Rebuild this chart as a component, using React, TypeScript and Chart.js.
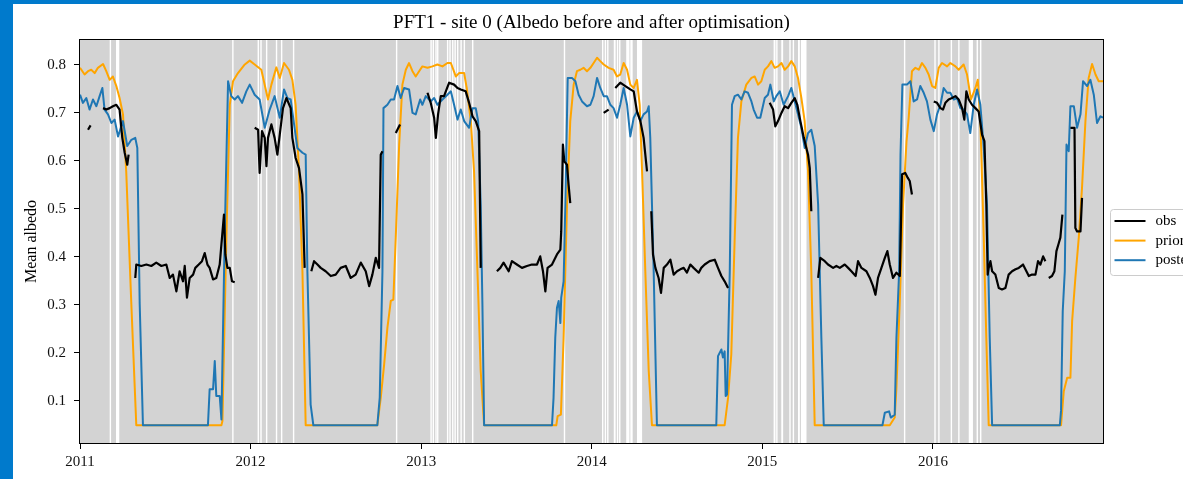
import React, { useEffect, useRef } from 'react';
import { Chart, registerables } from 'chart.js';

Chart.register(...registerables);

// ---- axis ticks / limits ----
const X_TICKS = [2011, 2012, 2013, 2014, 2015, 2016];
const Y_TICKS = [0.1, 0.2, 0.3, 0.4, 0.5, 0.6, 0.7, 0.8];
const X_LIMITS = [2011, 2016.997];
const Y_LIMITS = [0.012, 0.852];

const TITLE = 'PFT1 - site 0 (Albedo before and after optimisation)';
const Y_LABEL = 'Mean albedo';
const LABELS = ['obs', 'prior', 'posterior'];

// ---- series: [decimal year, albedo] ----
const OBS: [number, number | null][] = [
  [2011.047, 0.665], [2011.062, 0.674], [2011.098, null],
  [2011.135, 0.710], [2011.154, 0.707], [2011.174, 0.710], [2011.193, 0.714], [2011.213, 0.717], [2011.232, 0.707], [2011.248, 0.648], [2011.262, 0.617], [2011.277, 0.592], [2011.285, 0.613], [2011.300, null],
  [2011.324, 0.356], [2011.330, 0.384], [2011.359, 0.381], [2011.389, 0.384], [2011.418, 0.381], [2011.447, 0.388], [2011.477, 0.381], [2011.506, 0.384], [2011.526, 0.356], [2011.545, 0.363], [2011.565, 0.328], [2011.584, 0.370], [2011.604, 0.349], [2011.614, 0.381], [2011.627, 0.315], [2011.643, 0.356], [2011.663, 0.363], [2011.676, 0.377], [2011.696, 0.384], [2011.715, 0.391], [2011.731, 0.408], [2011.747, 0.384], [2011.760, 0.377], [2011.780, 0.353], [2011.799, 0.356], [2011.819, 0.384], [2011.829, 0.426], [2011.844, 0.488], [2011.852, 0.405], [2011.864, 0.377], [2011.878, 0.377], [2011.891, 0.349], [2011.907, 0.347], [2011.960, null],
  [2012.024, 0.669], [2012.044, 0.665], [2012.053, 0.575], [2012.067, 0.662], [2012.083, 0.648], [2012.093, 0.589], [2012.102, 0.648], [2012.122, 0.676], [2012.141, 0.648], [2012.157, 0.613], [2012.171, 0.655], [2012.190, 0.710], [2012.210, 0.731], [2012.235, 0.710], [2012.245, 0.648], [2012.264, 0.606], [2012.284, 0.585], [2012.304, 0.530], [2012.317, 0.377], [2012.336, null],
  [2012.356, 0.370], [2012.372, 0.391], [2012.392, 0.384], [2012.411, 0.377], [2012.440, 0.370], [2012.470, 0.360], [2012.499, 0.363], [2012.528, 0.377], [2012.558, 0.381], [2012.587, 0.356], [2012.616, 0.363], [2012.646, 0.388], [2012.675, 0.370], [2012.695, 0.339], [2012.714, 0.363], [2012.734, 0.398], [2012.753, 0.377], [2012.763, 0.613], [2012.773, 0.620], [2012.810, null],
  [2012.851, 0.658], [2012.876, 0.676], [2012.950, null],
  [2013.037, 0.742], [2013.056, 0.721], [2013.076, 0.690], [2013.086, 0.648], [2013.099, 0.697], [2013.115, 0.735], [2013.134, 0.735], [2013.164, 0.763], [2013.193, 0.759], [2013.213, 0.752], [2013.232, 0.749], [2013.261, 0.745], [2013.281, 0.721], [2013.301, 0.693], [2013.320, 0.683], [2013.340, 0.662], [2013.349, 0.377], [2013.400, null],
  [2013.444, 0.370], [2013.464, 0.377], [2013.483, 0.388], [2013.513, 0.370], [2013.532, 0.391], [2013.561, 0.384], [2013.591, 0.377], [2013.620, 0.381], [2013.649, 0.384], [2013.679, 0.384], [2013.698, 0.401], [2013.714, 0.370], [2013.728, 0.328], [2013.741, 0.377], [2013.767, 0.384], [2013.796, 0.405], [2013.816, 0.415], [2013.821, 0.453], [2013.831, 0.634], [2013.839, 0.599], [2013.855, 0.592], [2013.864, 0.551], [2013.874, 0.512], [2013.970, null],
  [2014.070, 0.700], [2014.099, 0.707], [2014.118, null],
  [2014.138, 0.752], [2014.167, 0.763], [2014.197, 0.756], [2014.226, 0.749], [2014.246, 0.745], [2014.265, 0.703], [2014.285, 0.683], [2014.304, 0.648], [2014.324, 0.578], [2014.336, null],
  [2014.349, 0.495], [2014.359, 0.405], [2014.373, 0.377], [2014.392, 0.356], [2014.406, 0.325], [2014.422, 0.377], [2014.441, 0.384], [2014.461, 0.394], [2014.480, 0.363], [2014.500, 0.370], [2014.519, 0.374], [2014.539, 0.377], [2014.558, 0.367], [2014.578, 0.384], [2014.597, 0.377], [2014.627, 0.367], [2014.642, 0.377], [2014.662, 0.384], [2014.691, 0.391], [2014.721, 0.394], [2014.740, 0.377], [2014.760, 0.360], [2014.779, 0.349], [2014.799, 0.335], [2014.900, null],
  [2015.043, 0.721], [2015.063, 0.707], [2015.076, 0.672], [2015.092, 0.683], [2015.112, 0.700], [2015.131, 0.714], [2015.151, 0.710], [2015.170, 0.721], [2015.190, 0.731], [2015.205, 0.717], [2015.223, 0.683], [2015.243, 0.648], [2015.268, 0.613], [2015.278, 0.585], [2015.287, 0.495], [2015.307, null],
  [2015.327, 0.356], [2015.340, 0.398], [2015.366, 0.391], [2015.385, 0.384], [2015.415, 0.377], [2015.434, 0.381], [2015.454, 0.377], [2015.483, 0.384], [2015.503, 0.377], [2015.522, 0.370], [2015.547, 0.360], [2015.561, 0.391], [2015.581, 0.377], [2015.610, 0.370], [2015.630, 0.356], [2015.649, 0.339], [2015.663, 0.321], [2015.678, 0.356], [2015.698, 0.377], [2015.718, 0.398], [2015.733, 0.412], [2015.747, 0.384], [2015.766, 0.356], [2015.786, 0.367], [2015.806, 0.360], [2015.819, 0.572], [2015.838, 0.575], [2015.852, 0.565], [2015.864, 0.558], [2015.877, 0.530], [2015.940, null],
  [2016.005, 0.724], [2016.024, 0.721], [2016.044, 0.710], [2016.059, 0.707], [2016.073, 0.721], [2016.092, 0.728], [2016.112, 0.731], [2016.132, 0.735], [2016.151, 0.728], [2016.171, 0.710], [2016.184, 0.686], [2016.196, 0.745], [2016.210, 0.728], [2016.229, 0.717], [2016.249, 0.710], [2016.268, 0.703], [2016.288, 0.655], [2016.302, 0.641], [2016.313, 0.509], [2016.321, 0.363], [2016.327, 0.377], [2016.337, 0.391], [2016.347, 0.370], [2016.366, 0.363], [2016.386, 0.335], [2016.405, 0.332], [2016.425, 0.335], [2016.444, 0.363], [2016.464, 0.370], [2016.484, 0.374], [2016.503, 0.377], [2016.528, 0.384], [2016.548, 0.370], [2016.562, 0.360], [2016.581, 0.363], [2016.601, 0.363], [2016.616, 0.391], [2016.630, 0.384], [2016.646, 0.401], [2016.659, 0.391], [2016.669, null],
  [2016.679, 0.356], [2016.698, 0.360], [2016.712, 0.370], [2016.724, 0.412], [2016.738, 0.429], [2016.747, 0.440], [2016.759, 0.488], [2016.783, null],
  [2016.806, 0.669], [2016.830, 0.669], [2016.835, 0.460], [2016.845, 0.453], [2016.865, 0.453], [2016.874, 0.523],
];

const PRIOR: [number, number][] = [
  [2011.000, 0.794], [2011.027, 0.780], [2011.047, 0.787], [2011.066, 0.790], [2011.086, 0.783], [2011.105, 0.794], [2011.135, 0.802], [2011.154, 0.787], [2011.174, 0.769], [2011.193, 0.776], [2011.213, 0.756], [2011.232, 0.731], [2011.252, 0.697], [2011.271, 0.578], [2011.301, 0.301], [2011.330, 0.049],
  [2011.829, 0.049], [2011.835, 0.058], [2011.858, 0.440], [2011.878, 0.717], [2011.897, 0.766], [2011.926, 0.783], [2011.966, 0.801], [2011.995, 0.809], [2012.024, 0.801], [2012.063, 0.790], [2012.102, 0.728], [2012.122, 0.759], [2012.151, 0.795], [2012.171, 0.773], [2012.196, 0.804], [2012.225, 0.790], [2012.245, 0.769], [2012.264, 0.717], [2012.284, 0.578], [2012.304, 0.370], [2012.323, 0.049],
  [2012.743, 0.049], [2012.763, 0.106], [2012.783, 0.176], [2012.802, 0.252], [2012.822, 0.308], [2012.837, 0.311], [2012.851, 0.440], [2012.871, 0.634], [2012.890, 0.759], [2012.910, 0.790], [2012.929, 0.804], [2012.949, 0.787], [2012.968, 0.776], [2012.988, 0.787], [2013.007, 0.797], [2013.037, 0.794], [2013.066, 0.797], [2013.095, 0.801], [2013.125, 0.797], [2013.154, 0.804], [2013.174, 0.804], [2013.203, 0.776], [2013.222, 0.783], [2013.252, 0.783], [2013.267, 0.752], [2013.291, 0.683], [2013.310, 0.578], [2013.330, 0.370], [2013.349, 0.162], [2013.369, 0.049],
  [2013.792, 0.049], [2013.800, 0.068], [2013.819, 0.071], [2013.835, 0.231], [2013.855, 0.509], [2013.874, 0.683], [2013.894, 0.759], [2013.913, 0.787], [2013.933, 0.790], [2013.952, 0.794], [2013.972, 0.787], [2013.992, 0.794], [2014.011, 0.804], [2014.031, 0.815], [2014.050, 0.808], [2014.070, 0.801], [2014.099, 0.794], [2014.128, 0.790], [2014.148, 0.776], [2014.167, 0.780], [2014.187, 0.804], [2014.207, 0.790], [2014.226, 0.759], [2014.246, 0.752], [2014.265, 0.769], [2014.281, 0.717], [2014.295, 0.578], [2014.314, 0.370], [2014.334, 0.162], [2014.353, 0.049],
  [2014.779, 0.049], [2014.799, 0.106], [2014.818, 0.197], [2014.838, 0.440], [2014.857, 0.648], [2014.877, 0.724], [2014.906, 0.759], [2014.936, 0.773], [2014.955, 0.776], [2014.975, 0.759], [2014.994, 0.766], [2015.014, 0.790], [2015.033, 0.797], [2015.053, 0.808], [2015.072, 0.794], [2015.092, 0.797], [2015.112, 0.804], [2015.131, 0.790], [2015.151, 0.797], [2015.170, 0.808], [2015.190, 0.797], [2015.209, 0.773], [2015.229, 0.731], [2015.248, 0.683], [2015.268, 0.578], [2015.287, 0.370], [2015.307, 0.049],
  [2015.747, 0.049], [2015.776, 0.065], [2015.786, 0.127], [2015.805, 0.301], [2015.825, 0.509], [2015.845, 0.640], [2015.858, 0.690], [2015.877, 0.787], [2015.897, 0.794], [2015.917, 0.790], [2015.936, 0.804], [2015.956, 0.794], [2015.975, 0.780], [2015.995, 0.756], [2016.014, 0.752], [2016.034, 0.794], [2016.053, 0.804], [2016.083, 0.797], [2016.102, 0.804], [2016.132, 0.797], [2016.151, 0.790], [2016.180, 0.801], [2016.200, 0.780], [2016.223, 0.728], [2016.249, 0.752], [2016.263, 0.769], [2016.278, 0.683], [2016.298, 0.440], [2016.313, 0.231], [2016.327, 0.049],
  [2016.751, 0.049], [2016.767, 0.120], [2016.787, 0.148], [2016.806, 0.148], [2016.816, 0.266], [2016.835, 0.356], [2016.855, 0.440], [2016.874, 0.544], [2016.894, 0.683], [2016.913, 0.773], [2016.933, 0.802], [2016.953, 0.780], [2016.972, 0.766], [2016.997, 0.766],
];

const POSTERIOR: [number, number][] = [
  [2011.000, 0.738], [2011.017, 0.721], [2011.037, 0.731], [2011.056, 0.707], [2011.076, 0.728], [2011.096, 0.714], [2011.115, 0.735], [2011.131, 0.752], [2011.144, 0.707], [2011.164, 0.697], [2011.184, 0.679], [2011.203, 0.686], [2011.223, 0.651], [2011.252, 0.683], [2011.277, 0.631], [2011.301, 0.644], [2011.324, 0.648], [2011.336, 0.627], [2011.350, 0.301], [2011.369, 0.049],
  [2011.750, 0.049], [2011.760, 0.124], [2011.780, 0.124], [2011.790, 0.183], [2011.799, 0.110], [2011.819, 0.110], [2011.829, 0.061], [2011.848, 0.440], [2011.868, 0.766], [2011.887, 0.735], [2011.907, 0.728], [2011.926, 0.735], [2011.950, 0.721], [2011.975, 0.745], [2011.995, 0.759], [2012.024, 0.738], [2012.053, 0.728], [2012.083, 0.669], [2012.112, 0.707], [2012.141, 0.735], [2012.171, 0.690], [2012.196, 0.749], [2012.216, 0.731], [2012.235, 0.728], [2012.255, 0.676], [2012.274, 0.627], [2012.304, 0.617], [2012.323, 0.613], [2012.333, 0.370], [2012.352, 0.092], [2012.368, 0.049],
  [2012.743, 0.049], [2012.757, 0.106], [2012.773, 0.370], [2012.779, 0.710], [2012.802, 0.717], [2012.822, 0.728], [2012.841, 0.728], [2012.861, 0.756], [2012.880, 0.731], [2012.900, 0.752], [2012.929, 0.749], [2012.949, 0.700], [2012.968, 0.697], [2012.994, 0.728], [2013.007, 0.717], [2013.027, 0.735], [2013.056, 0.724], [2013.076, 0.731], [2013.095, 0.717], [2013.125, 0.728], [2013.154, 0.738], [2013.174, 0.745], [2013.193, 0.717], [2013.213, 0.686], [2013.232, 0.707], [2013.252, 0.683], [2013.281, 0.669], [2013.301, 0.710], [2013.320, 0.710], [2013.334, 0.683], [2013.349, 0.509], [2013.359, 0.301], [2013.369, 0.049],
  [2013.767, 0.049], [2013.776, 0.106], [2013.786, 0.231], [2013.796, 0.294], [2013.806, 0.308], [2013.816, 0.262], [2013.821, 0.315], [2013.835, 0.349], [2013.845, 0.509], [2013.859, 0.773], [2013.884, 0.773], [2013.904, 0.766], [2013.923, 0.738], [2013.943, 0.724], [2013.972, 0.714], [2013.992, 0.717], [2014.011, 0.735], [2014.031, 0.773], [2014.050, 0.752], [2014.070, 0.735], [2014.089, 0.735], [2014.109, 0.717], [2014.128, 0.710], [2014.148, 0.690], [2014.167, 0.717], [2014.187, 0.752], [2014.207, 0.717], [2014.226, 0.651], [2014.246, 0.690], [2014.265, 0.703], [2014.285, 0.683], [2014.304, 0.697], [2014.324, 0.703], [2014.334, 0.714], [2014.343, 0.648], [2014.363, 0.370], [2014.382, 0.049],
  [2014.730, 0.049], [2014.740, 0.193], [2014.760, 0.207], [2014.769, 0.190], [2014.779, 0.203], [2014.785, 0.110], [2014.793, 0.113], [2014.809, 0.370], [2014.822, 0.717], [2014.838, 0.735], [2014.857, 0.738], [2014.877, 0.728], [2014.896, 0.745], [2014.916, 0.742], [2014.936, 0.724], [2014.949, 0.707], [2014.969, 0.690], [2014.988, 0.690], [2015.014, 0.731], [2015.033, 0.738], [2015.047, 0.759], [2015.067, 0.724], [2015.082, 0.735], [2015.102, 0.745], [2015.125, 0.717], [2015.151, 0.735], [2015.170, 0.752], [2015.190, 0.724], [2015.209, 0.697], [2015.229, 0.669], [2015.248, 0.627], [2015.268, 0.658], [2015.287, 0.665], [2015.307, 0.631], [2015.327, 0.509], [2015.346, 0.231], [2015.360, 0.049],
  [2015.704, 0.049], [2015.718, 0.075], [2015.743, 0.078], [2015.753, 0.065], [2015.776, 0.071], [2015.786, 0.231], [2015.802, 0.370], [2015.810, 0.613], [2015.821, 0.759], [2015.848, 0.759], [2015.868, 0.766], [2015.887, 0.724], [2015.907, 0.728], [2015.926, 0.756], [2015.946, 0.742], [2015.965, 0.724], [2015.985, 0.686], [2016.005, 0.662], [2016.024, 0.697], [2016.044, 0.717], [2016.063, 0.752], [2016.083, 0.742], [2016.102, 0.742], [2016.122, 0.728], [2016.141, 0.731], [2016.161, 0.710], [2016.180, 0.707], [2016.200, 0.697], [2016.219, 0.658], [2016.239, 0.717], [2016.259, 0.749], [2016.278, 0.717], [2016.298, 0.627], [2016.317, 0.509], [2016.333, 0.231], [2016.347, 0.049],
  [2016.744, 0.049], [2016.751, 0.080], [2016.761, 0.287], [2016.773, 0.370], [2016.783, 0.634], [2016.796, 0.620], [2016.806, 0.714], [2016.826, 0.714], [2016.845, 0.669], [2016.865, 0.697], [2016.880, 0.766], [2016.904, 0.756], [2016.923, 0.769], [2016.943, 0.738], [2016.962, 0.679], [2016.982, 0.693], [2016.997, 0.690],
];

// days without observations: [start (decimal year), length in days]
const GAPS: [number, number][] = [
  [2011.174, 3], [2011.211, 7], [2011.892, 3],
  [2012.041, 3], [2012.057, 3], [2012.090, 3], [2012.148, 3], [2012.178, 3], [2012.248, 3], [2012.852, 3],
  [2013.054, 3], [2013.067, 3], [2013.083, 3], [2013.093, 3], [2013.151, 3], [2013.165, 3], [2013.181, 3], [2013.195, 3], [2013.210, 3], [2013.230, 3], [2013.249, 3], [2013.298, 3], [2013.836, 3],
  [2014.060, 3], [2014.076, 3], [2014.090, 3], [2014.129, 4], [2014.147, 3], [2014.160, 3], [2014.202, 7], [2014.226, 5], [2014.265, 11],
  [2015.066, 4], [2015.081, 3], [2015.111, 4], [2015.158, 3], [2015.178, 3], [2015.209, 4], [2015.226, 12], [2015.830, 3],
  [2016.008, 3], [2016.031, 3], [2016.104, 3], [2016.148, 3], [2016.210, 9], [2016.256, 3], [2016.276, 3],
];

const COLORS = ['#000000', '#ffa500', '#1f77b4'];
const FONT = "'Liberation Serif', 'DejaVu Serif', serif";

export default function App() {
  const ref = useRef<HTMLCanvasElement>(null);

  useEffect(() => {
    const canvas = ref.current;
    if (!canvas) return;

    const decor = {
      id: 'decor',
      beforeDraw(chart: any) {
        const { ctx, chartArea: a, scales } = chart;
        ctx.save();
        ctx.fillStyle = '#d3d3d3';
        ctx.fillRect(a.left, a.top, a.right - a.left, a.bottom - a.top);
        ctx.fillStyle = '#ffffff';
        for (const [s, d] of GAPS) {
          const x0 = scales.x.getPixelForValue(s);
          const x1 = scales.x.getPixelForValue(s + d / 365.25);
          ctx.fillRect(x0, a.top, Math.max(1, x1 - x0), a.bottom - a.top);
        }
        ctx.restore();
      },
      afterDraw(chart: any) {
        const { ctx, chartArea: a } = chart;
        ctx.save();
        // frame
        ctx.strokeStyle = '#000';
        ctx.lineWidth = 1;
        ctx.strokeRect(Math.round(a.left) - 0.5, Math.round(a.top) - 0.5, Math.round(a.right - a.left) + 1, Math.round(a.bottom - a.top) + 1);
        // title
        ctx.fillStyle = '#000';
        ctx.font = `19px ${FONT}`;
        ctx.textAlign = 'center';
        ctx.textBaseline = 'middle';
        ctx.fillText(TITLE, (a.left + a.right) / 2, 19);
        // y label
        ctx.save();
        ctx.translate(19, (a.top + a.bottom) / 2);
        ctx.rotate(-Math.PI / 2);
        ctx.font = `16px ${FONT}`;
        ctx.fillText(Y_LABEL, 0, 0);
        ctx.restore();
        // legend
        const bx = a.right + 7.5;
        const by = 205.5;
        ctx.beginPath();
        ctx.roundRect(bx, by, 130, 66, 3);
        ctx.fillStyle = 'rgba(255,255,255,0.8)';
        ctx.fill();
        ctx.strokeStyle = '#cccccc';
        ctx.stroke();
        ctx.font = `15px ${FONT}`;
        ctx.textAlign = 'left';
        ctx.textBaseline = 'middle';
        chart.data.datasets.forEach((ds: any, i: number) => {
          const y = by + 11.5 + i * 19.6;
          ctx.strokeStyle = ds.borderColor;
          ctx.lineWidth = 2;
          ctx.beginPath();
          ctx.moveTo(bx + 4, y);
          ctx.lineTo(bx + 35, y);
          ctx.stroke();
          ctx.fillStyle = '#000';
          ctx.fillText(ds.label, bx + 45, y);
        });
        ctx.restore();
      },
    };

    const mk = (pts: [number, number | null][]) => pts.map(([x, y]) => ({ x, y }));

    const chart = new Chart(canvas, {
      type: 'line',
      data: {
        datasets: [
          { label: LABELS[0], data: mk(OBS), borderColor: COLORS[0], borderWidth: 2.2, order: 0 },
          { label: LABELS[1], data: mk(PRIOR), borderColor: COLORS[1], order: 2 },
          { label: LABELS[2], data: mk(POSTERIOR), borderColor: COLORS[2], order: 1 },
        ] as any,
      },
      options: {
        responsive: false,
        animation: false,
        devicePixelRatio: 1,
        spanGaps: false,
        elements: {
          point: { radius: 0, hoverRadius: 0 },
          line: { borderWidth: 2, tension: 0, borderJoinStyle: 'round', borderCapStyle: 'butt' },
        },
        layout: { padding: { top: 36, right: 80, left: 0, bottom: 0 } },
        plugins: {
          legend: { display: false },
          tooltip: { enabled: false },
          title: { display: false },
        },
        events: [],
        scales: {
          x: {
            type: 'linear',
            min: X_LIMITS[0],
            max: X_LIMITS[1],
            afterBuildTicks: (s: any) => { s.ticks = X_TICKS.map((v) => ({ value: v })); },
            afterFit: (s: any) => { s.height = 36; },
            ticks: {
              callback: (v: any) => String(v),
              color: '#111',
              font: { family: FONT, size: 15 },
              padding: 4,
              maxRotation: 0,
              autoSkip: false,
            },
            grid: { drawOnChartArea: false, drawTicks: true, tickLength: 6, color: '#000' },
            border: { display: false },
          },
          y: {
            type: 'linear',
            min: Y_LIMITS[0],
            max: Y_LIMITS[1],
            afterBuildTicks: (s: any) => { s.ticks = Y_TICKS.map((v) => ({ value: v })); },
            afterFit: (s: any) => { s.width = 67; },
            ticks: {
              callback: (v: any) => Number(v).toFixed(1),
              color: '#111',
              font: { family: FONT, size: 15 },
              padding: 8,
              autoSkip: false,
            },
            grid: { drawOnChartArea: false, drawTicks: true, tickLength: 6, color: '#000' },
            border: { display: false },
          },
        },
      } as any,
      plugins: [decor],
    });

    return () => chart.destroy();
  }, []);

  return (
    <div style={{ position: 'fixed', left: 0, top: 0, width: 1183, height: 479, background: '#007acc', overflow: 'hidden' }}>
      <div style={{ position: 'absolute', left: 13, top: 4, width: 1170, height: 475, background: '#ffffff', overflow: 'hidden' }}>
        <canvas ref={ref} width={1170} height={475} style={{ display: 'block', width: 1170, height: 475 }} />
      </div>
    </div>
  );
}
